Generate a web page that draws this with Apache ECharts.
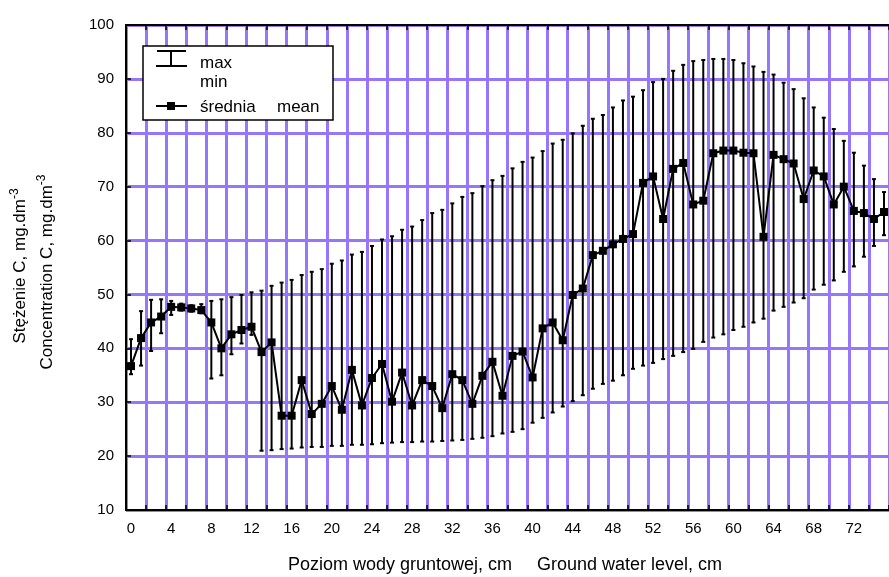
<!DOCTYPE html>
<html>
<head>
<meta charset="utf-8">
<script src="https://cdn.jsdelivr.net/npm/echarts@6/dist/echarts.min.js"></script>
<style>
  html, body { margin: 0; padding: 0; background: #fff; }
  #container { width: 889px; height: 577px; }
</style>
</head>
<body>
<div id="container"></div>
<script>
// ground water level, cm (category per step)
var levels = ['0','1','2','3','4','5','6','7','8','9','10','11','12','13','14','15','16','17','18','19',
    '20','21','22','23','24','25','26','27','28','29','30','31','32','33','34','35','36','37','38','39',
    '40','41','42','43','44','45','46','47','48','49','50','51','52','53','54','55','56','57','58','59',
    '60','61','62','63','64','65','66','67','68','69','70','71','72','73','74','75'];

// mean concentration
var meanVals = [36.7, 41.9, 44.8, 45.9, 47.7, 47.6, 47.4, 47.1, 44.8, 40.0,
    42.6, 43.4, 44.0, 39.3, 41.1, 27.5, 27.5, 34.1, 27.8, 29.7,
    33.0, 28.6, 36.0, 29.4, 34.5, 37.1, 30.1, 35.5, 29.4, 34.1,
    33.0, 28.9, 35.2, 34.1, 29.7, 34.9, 37.5, 31.2, 38.6, 39.4,
    34.6, 43.7, 44.8, 41.5, 49.9, 51.1, 57.3, 58.1, 59.3, 60.3,
    61.2, 70.7, 71.9, 64.0, 73.3, 74.4, 66.7, 67.4, 76.2, 76.7,
    76.7, 76.3, 76.2, 60.7, 75.9, 75.1, 74.3, 67.7, 73.0, 71.9,
    66.7, 70.0, 65.5, 65.1, 64.0, 65.3];

// max concentration
var maxVals = [41.7, 46.9, 49.0, 49.1, 48.8, 48.3, 48.0, 48.2, 48.8, 49.1,
    49.5, 49.9, 50.4, 50.7, 51.6, 52.2, 52.7, 53.6, 54.2, 54.7,
    55.7, 56.3, 57.4, 57.9, 59.0, 60.2, 60.8, 62.0, 62.6, 63.8,
    65.1, 65.7, 66.9, 68.1, 68.8, 70.1, 71.2, 72.0, 73.4, 74.6,
    75.4, 76.6, 78.0, 78.7, 79.9, 81.3, 82.6, 83.3, 84.7, 86.0,
    86.7, 87.9, 89.4, 90.0, 91.5, 92.6, 93.3, 93.5, 93.7, 93.7,
    93.5, 92.9, 92.3, 91.3, 90.8, 89.3, 88.1, 86.4, 84.7, 82.8,
    80.7, 78.5, 76.3, 73.9, 71.4, 69.0];

// min concentration
var minVals = [35.2, 36.8, 39.5, 42.8, 46.2, 47.0, 46.8, 46.5, 34.4, 35.0,
    38.9, 40.9, 42.5, 21.0, 21.1, 21.3, 21.4, 21.6, 21.7, 21.7,
    21.9, 21.9, 22.1, 22.1, 22.2, 22.4, 22.5, 22.6, 22.6, 22.7,
    22.7, 22.8, 22.9, 23.0, 23.2, 23.4, 23.7, 24.2, 24.5, 25.0,
    26.2, 27.1, 28.1, 29.2, 30.2, 31.3, 32.5, 33.4, 34.0, 35.0,
    36.2, 36.8, 37.3, 38.0, 38.6, 39.3, 39.9, 41.2, 42.0, 42.6,
    43.4, 44.0, 44.8, 45.5, 47.0, 47.7, 48.5, 49.3, 50.9, 51.8,
    52.6, 54.2, 55.2, 57.0, 59.0, 61.0];

var gridColor = '#9677fb';
var font = 'Arial, "Liberation Sans", sans-serif';

function init(){
    var chart = echarts.init(document.getElementById('container'));

    var barData = [];
    for (var i = 0; i < levels.length; i++) {
        barData.push([i, maxVals[i], minVals[i]]);
    }

    var gridPos = { left: 126, right: -3, top: 25, bottom: 67, containLabel: false };

    // frame axes run 0..76 over the same width as the 76 categories,
    // so their ticks every 2 fall on the category borders (x.5 levels)
    var option = {
        backgroundColor: '#fff',
        animation: false,
        grid: [gridPos, gridPos],
        xAxis: [
            {   // vertical grid lines + bottom ticks
                type: 'value', gridIndex: 0, position: 'bottom',
                min: 0, max: 76, interval: 2,
                axisLine: { show: true, lineStyle: { color: '#000', width: 2 } },
                axisTick: { show: true, inside: true, length: 5, lineStyle: { color: '#000', width: 1.5 } },
                axisLabel: { show: false },
                splitLine: { show: true, lineStyle: { color: gridColor, width: 3 } }
            },
            {   // top frame
                type: 'value', gridIndex: 0, position: 'top',
                min: 0, max: 76, interval: 2,
                axisLine: { show: true, lineStyle: { color: '#000', width: 2 } },
                axisTick: { show: true, inside: true, length: 5, lineStyle: { color: '#000', width: 1.5 } },
                axisLabel: { show: false },
                splitLine: { show: false }
            },
            {   // labels
                type: 'category', gridIndex: 1, position: 'bottom',
                data: levels, boundaryGap: true,
                axisLine: { show: false },
                axisTick: { show: false },
                splitLine: { show: false },
                axisLabel: { interval: 3, color: '#000', fontSize: 15, fontFamily: font, margin: 11 }
            }
        ],
        yAxis: [
            {
                type: 'value', gridIndex: 0,
                min: 10, max: 100, interval: 10,
                axisLine: { show: true, lineStyle: { color: '#000', width: 2 } },
                axisTick: { show: true, inside: true, length: 5, lineStyle: { color: '#000', width: 1.5 } },
                axisLabel: { color: '#000', fontSize: 15, fontFamily: font, margin: 12 },
                splitLine: { show: true, lineStyle: { color: gridColor, width: 3 } }
            },
            {
                type: 'value', gridIndex: 1,
                min: 10, max: 100, interval: 10,
                axisLine: { show: false }, axisTick: { show: false },
                axisLabel: { show: false }, splitLine: { show: false }
            }
        ],
        series: [
            {
                name: 'max min',
                type: 'custom',
                xAxisIndex: 2, yAxisIndex: 1,
                data: barData,
                z: 3,
                renderItem: function (params, api) {
                    var top = api.coord([api.value(0), api.value(1)]);
                    var bot = api.coord([api.value(0), api.value(2)]);
                    var cap = 2;
                    var st = { stroke: '#000', lineWidth: 2 };
                    return {
                        type: 'group',
                        children: [
                            { type: 'line', shape: { x1: top[0], y1: top[1], x2: bot[0], y2: bot[1] }, style: st },
                            { type: 'line', shape: { x1: top[0] - cap, y1: top[1], x2: top[0] + cap, y2: top[1] }, style: st },
                            { type: 'line', shape: { x1: bot[0] - cap, y1: bot[1], x2: bot[0] + cap, y2: bot[1] }, style: st }
                        ]
                    };
                }
            },
            {
                name: 'mean',
                type: 'line',
                xAxisIndex: 2, yAxisIndex: 1,
                data: meanVals,
                z: 4,
                symbol: 'rect',
                symbolSize: 8,
                showAllSymbol: true,
                itemStyle: { color: '#000' },
                lineStyle: { color: '#000', width: 2 }
            }
        ],
        graphic: [
            // legend
            { type: 'rect', z: 100, shape: { x: 143, y: 46, width: 190, height: 74 },
              style: { fill: '#fff', stroke: '#000', lineWidth: 1.5 } },
            { type: 'line', z: 101, shape: { x1: 157, y1: 51, x2: 186, y2: 51 }, style: { stroke: '#000', lineWidth: 2 } },
            { type: 'line', z: 101, shape: { x1: 171, y1: 51, x2: 171, y2: 66 }, style: { stroke: '#000', lineWidth: 2 } },
            { type: 'line', z: 101, shape: { x1: 156, y1: 66, x2: 187, y2: 66 }, style: { stroke: '#000', lineWidth: 2 } },
            { type: 'text', z: 101, x: 200, y: 63, style: { text: 'max', fill: '#000', font: '17px ' + font, textVerticalAlign: 'middle' } },
            { type: 'text', z: 101, x: 200, y: 82, style: { text: 'min', fill: '#000', font: '17px ' + font, textVerticalAlign: 'middle' } },
            { type: 'line', z: 101, shape: { x1: 156, y1: 106, x2: 187, y2: 106 }, style: { stroke: '#000', lineWidth: 2 } },
            { type: 'rect', z: 102, shape: { x: 167, y: 102, width: 8, height: 8 }, style: { fill: '#000' } },
            { type: 'text', z: 101, x: 200, y: 107, style: { text: 'średnia', fill: '#000', font: '17px ' + font, textVerticalAlign: 'middle' } },
            { type: 'text', z: 101, x: 277, y: 107, style: { text: 'mean', fill: '#000', font: '17px ' + font, textVerticalAlign: 'middle' } },
            // axis titles
            { type: 'text', x: 505, y: 565, style: { text: 'Poziom wody gruntowej, cm     Ground water level, cm', fill: '#000',
                font: '18px ' + font, textAlign: 'center', textVerticalAlign: 'middle' } },
            { type: 'text', x: 20, y: 266, rotation: Math.PI / 2,
              style: { text: '{a|Stężenie C, mg.dm}{s|-3}', textAlign: 'center', textVerticalAlign: 'middle',
                rich: { a: { fontSize: 17, fontFamily: font, color: '#000', lineHeight: 22 },
                        s: { fontSize: 12, fontFamily: font, color: '#000', verticalAlign: 'top', lineHeight: 12 } } } },
            { type: 'text', x: 47, y: 272, rotation: Math.PI / 2,
              style: { text: '{a|Concentration C, mg.dm}{s|-3}', textAlign: 'center', textVerticalAlign: 'middle',
                rich: { a: { fontSize: 17, fontFamily: font, color: '#000', lineHeight: 22 },
                        s: { fontSize: 12, fontFamily: font, color: '#000', verticalAlign: 'top', lineHeight: 12 } } } }
        ]
    };

    chart.setOption(option, true);
}

init();
</script>
</body>
</html>
